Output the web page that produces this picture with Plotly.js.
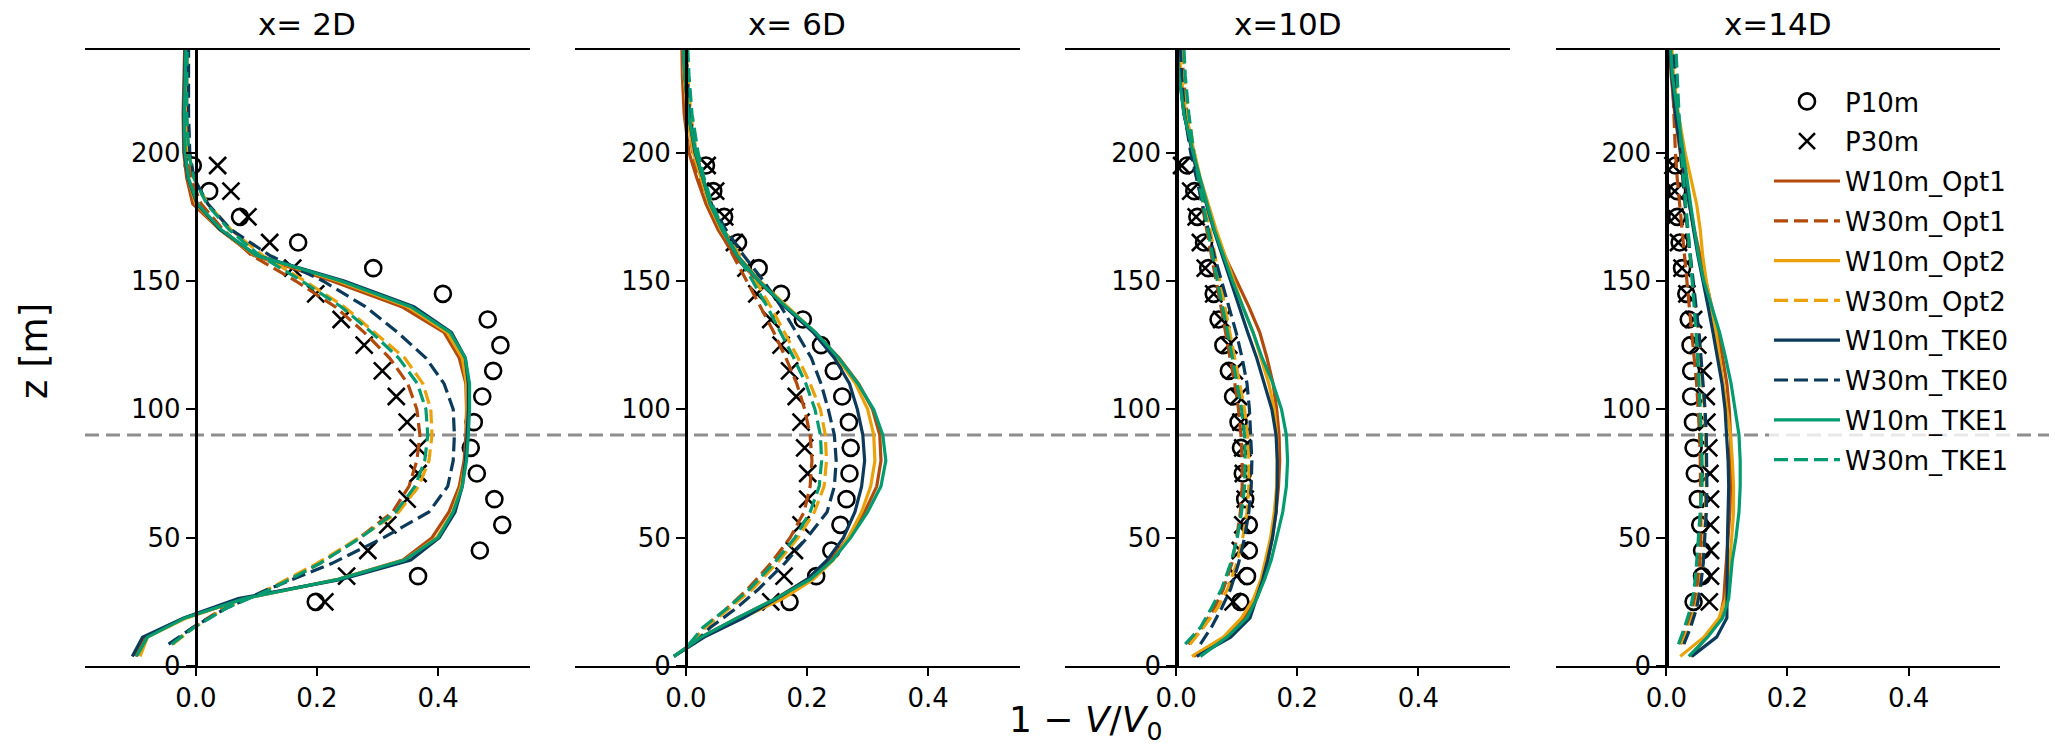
<!DOCTYPE html>
<html>
<head>
<meta charset="utf-8">
<script src="https://cdn.plot.ly/plotly-3.0.1.min.js"></script>
<style>html,body{margin:0;padding:0;background:#fff;}#chart{width:2067px;height:751px;}</style>
</head>
<body>
<div id="chart"></div>
<script>
// ---------------- DATA ----------------
const panelTitles = ['x= 2D', 'x= 6D', 'x=10D', 'x=14D'];
const seriesNames = ['P10m', 'P30m', 'W10m_Opt1', 'W30m_Opt1', 'W10m_Opt2', 'W30m_Opt2', 'W10m_TKE0', 'W30m_TKE0', 'W10m_TKE1', 'W30m_TKE1'];
const xTickVals = [0, 0.2, 0.4];
const xTickText = ['0.0', '0.2', '0.4'];
const yTickVals = [0, 50, 100, 150, 200];

// heights [m]
const zP = [25, 35, 45, 55, 65, 75, 85, 95, 105, 115, 125, 135, 145, 155, 165, 175, 185, 195];
const zS = [3.75, 11.25, 18.75, 26.25, 33.75, 41.25, 50, 60, 70, 80, 90, 100, 110, 120, 130, 140, 150, 160, 170, 180, 190, 200, 215, 230, 245];
const zD = [8.5, 15, 22.5, 30, 40, 50, 60, 70, 80, 90, 100, 110, 120, 130, 140, 150, 160, 170, 180, 190, 200, 215, 230, 245];

// x = 2D
const d2D_P10m = [0.198, 0.367, 0.469, 0.506, 0.493, 0.464, 0.454, 0.459, 0.473, 0.491, 0.503, 0.482, 0.408, 0.293, 0.169, 0.073, 0.022, -0.005];
const d2D_P30m = [0.213, 0.249, 0.284, 0.317, 0.349, 0.367, 0.367, 0.349, 0.331, 0.308, 0.278, 0.240, 0.198, 0.160, 0.122, 0.086, 0.058, 0.036];
const d2D_W10m_Opt1 = [-0.1, -0.085, -0.018, 0.078, 0.235, 0.342, 0.39, 0.418, 0.435, 0.443, 0.446, 0.447, 0.446, 0.435, 0.41, 0.34, 0.225, 0.095, 0.04, -0.005, -0.015, -0.02, -0.021, -0.019, -0.018];
const d2D_W30m_Opt1 = [-0.04, -0.005, 0.045, 0.125, 0.205, 0.27, 0.325, 0.352, 0.365, 0.37, 0.365, 0.35, 0.32, 0.278, 0.23, 0.165, 0.092, 0.045, 0.009, -0.008, -0.015, -0.017, -0.016, -0.015];
const d2D_W10m_Opt2 = [-0.092, -0.08, -0.015, 0.08, 0.235, 0.345, 0.398, 0.424, 0.438, 0.445, 0.448, 0.448, 0.447, 0.44, 0.415, 0.35, 0.235, 0.098, 0.04, 0.0, -0.013, -0.018, -0.019, -0.017, -0.016];
const d2D_W30m_Opt2 = [-0.038, -0.003, 0.048, 0.12, 0.2, 0.27, 0.335, 0.368, 0.385, 0.39, 0.388, 0.375, 0.345, 0.295, 0.245, 0.18, 0.11, 0.058, 0.02, -0.003, -0.012, -0.015, -0.015, -0.014];
const d2D_W10m_TKE0 = [-0.105, -0.088, -0.02, 0.07, 0.24, 0.355, 0.402, 0.428, 0.44, 0.445, 0.448, 0.45, 0.45, 0.445, 0.422, 0.36, 0.245, 0.10, 0.04, 0.002, -0.013, -0.019, -0.02, -0.018, -0.017];
const d2D_W30m_TKE0 = [-0.045, -0.005, 0.05, 0.12, 0.225, 0.31, 0.385, 0.416, 0.425, 0.427, 0.425, 0.41, 0.38, 0.333, 0.28, 0.21, 0.122, 0.058, 0.02, -0.003, -0.01, -0.012, -0.012, -0.012];
const d2D_W10m_TKE1 = [-0.098, -0.08, -0.018, 0.08, 0.235, 0.345, 0.40, 0.425, 0.44, 0.447, 0.45, 0.452, 0.452, 0.445, 0.42, 0.355, 0.24, 0.10, 0.042, 0.003, -0.012, -0.018, -0.019, -0.017, -0.016];
const d2D_W30m_TKE1 = [-0.04, -0.003, 0.05, 0.125, 0.205, 0.272, 0.33, 0.362, 0.378, 0.383, 0.38, 0.366, 0.335, 0.29, 0.24, 0.175, 0.105, 0.055, 0.018, -0.003, -0.012, -0.015, -0.015, -0.014];

// x = 6D
const d6D_P10m = [0.171, 0.215, 0.24, 0.255, 0.265, 0.27, 0.272, 0.269, 0.258, 0.244, 0.223, 0.193, 0.157, 0.12, 0.086, 0.063, 0.045, 0.033];
const d6D_P30m = [0.14, 0.162, 0.179, 0.19, 0.201, 0.201, 0.196, 0.19, 0.182, 0.171, 0.157, 0.14, 0.117, 0.099, 0.08, 0.064, 0.049, 0.035];
const d6D_W10m_Opt1 = [-0.02, 0.025, 0.085, 0.148, 0.2, 0.238, 0.268, 0.295, 0.315, 0.322, 0.32, 0.308, 0.285, 0.253, 0.213, 0.165, 0.118, 0.08, 0.053, 0.033, 0.018, 0.005, -0.003, -0.006, -0.007];
const d6D_W30m_Opt1 = [0.008, 0.03, 0.068, 0.102, 0.14, 0.172, 0.195, 0.205, 0.208, 0.205, 0.196, 0.183, 0.165, 0.145, 0.123, 0.1, 0.077, 0.055, 0.036, 0.022, 0.011, 0.003, 0.0, -0.002];
const d6D_W10m_Opt2 = [-0.02, 0.028, 0.093, 0.16, 0.21, 0.243, 0.268, 0.29, 0.305, 0.312, 0.31, 0.3, 0.28, 0.25, 0.213, 0.168, 0.122, 0.085, 0.058, 0.038, 0.025, 0.012, 0.002, -0.003, -0.005];
const d6D_W30m_Opt2 = [0.008, 0.032, 0.072, 0.11, 0.15, 0.185, 0.212, 0.228, 0.232, 0.23, 0.222, 0.205, 0.185, 0.162, 0.14, 0.115, 0.088, 0.062, 0.042, 0.028, 0.017, 0.008, 0.003, 0.0];
const d6D_W10m_TKE0 = [-0.02, 0.03, 0.095, 0.15, 0.2, 0.233, 0.26, 0.279, 0.29, 0.295, 0.292, 0.283, 0.27, 0.245, 0.21, 0.163, 0.12, 0.084, 0.06, 0.04, 0.028, 0.015, 0.004, -0.002, -0.005];
const d6D_W30m_TKE0 = [0.012, 0.04, 0.083, 0.12, 0.163, 0.2, 0.233, 0.245, 0.248, 0.245, 0.235, 0.223, 0.207, 0.182, 0.157, 0.128, 0.095, 0.066, 0.042, 0.028, 0.016, 0.006, 0.002, 0.0];
const d6D_W10m_TKE1 = [-0.02, 0.025, 0.085, 0.148, 0.205, 0.242, 0.272, 0.3, 0.322, 0.33, 0.325, 0.31, 0.284, 0.252, 0.214, 0.165, 0.12, 0.084, 0.06, 0.04, 0.028, 0.016, 0.004, -0.002, -0.005];
const d6D_W30m_TKE1 = [0.005, 0.028, 0.068, 0.105, 0.145, 0.18, 0.205, 0.22, 0.224, 0.222, 0.213, 0.198, 0.178, 0.156, 0.134, 0.11, 0.085, 0.062, 0.043, 0.03, 0.02, 0.01, 0.005, 0.002];

// x = 10D
const d10D_P10m = [0.106, 0.117, 0.12, 0.12, 0.114, 0.11, 0.107, 0.103, 0.094, 0.087, 0.078, 0.07, 0.062, 0.053, 0.046, 0.035, 0.03, 0.018];
const d10D_P30m = [0.094, 0.1, 0.106, 0.11, 0.114, 0.111, 0.11, 0.107, 0.103, 0.096, 0.087, 0.075, 0.062, 0.048, 0.04, 0.033, 0.024, 0.009];
const d10D_W10m_Opt1 = [0.029, 0.084, 0.112, 0.133, 0.145, 0.152, 0.159, 0.165, 0.169, 0.171, 0.17, 0.166, 0.16, 0.15, 0.138, 0.12, 0.1, 0.08, 0.063, 0.05, 0.038, 0.027, 0.013, 0.006, 0.002];
const d10D_W30m_Opt1 = [0.02, 0.043, 0.063, 0.078, 0.092, 0.1, 0.106, 0.109, 0.109, 0.107, 0.103, 0.097, 0.089, 0.082, 0.074, 0.066, 0.058, 0.05, 0.042, 0.034, 0.027, 0.018, 0.012, 0.008];
const d10D_W10m_Opt2 = [0.026, 0.078, 0.108, 0.128, 0.14, 0.148, 0.156, 0.162, 0.166, 0.167, 0.166, 0.162, 0.153, 0.14, 0.127, 0.11, 0.095, 0.08, 0.066, 0.053, 0.04, 0.03, 0.016, 0.008, 0.003];
const d10D_W30m_Opt2 = [0.023, 0.045, 0.068, 0.085, 0.1, 0.11, 0.117, 0.12, 0.12, 0.118, 0.113, 0.105, 0.097, 0.088, 0.08, 0.072, 0.064, 0.056, 0.047, 0.038, 0.03, 0.02, 0.013, 0.009];
const d10D_W10m_TKE0 = [0.034, 0.09, 0.122, 0.133, 0.143, 0.151, 0.159, 0.165, 0.167, 0.167, 0.165, 0.158, 0.146, 0.133, 0.118, 0.104, 0.09, 0.076, 0.062, 0.05, 0.038, 0.027, 0.013, 0.005, 0.001];
const d10D_W30m_TKE0 = [0.04, 0.058, 0.075, 0.09, 0.103, 0.113, 0.12, 0.124, 0.125, 0.123, 0.121, 0.117, 0.109, 0.099, 0.087, 0.074, 0.063, 0.053, 0.043, 0.033, 0.024, 0.014, 0.009, 0.006];
const d10D_W10m_TKE1 = [0.04, 0.084, 0.117, 0.133, 0.146, 0.157, 0.166, 0.176, 0.182, 0.184, 0.182, 0.174, 0.16, 0.142, 0.127, 0.11, 0.093, 0.078, 0.063, 0.051, 0.039, 0.028, 0.013, 0.005, 0.0];
const d10D_W30m_TKE1 = [0.015, 0.04, 0.058, 0.075, 0.09, 0.101, 0.108, 0.113, 0.114, 0.113, 0.108, 0.101, 0.093, 0.085, 0.076, 0.068, 0.06, 0.052, 0.044, 0.036, 0.029, 0.021, 0.015, 0.012];

// x = 14D
const d14D_P10m = [0.045, 0.059, 0.059, 0.056, 0.052, 0.047, 0.045, 0.044, 0.041, 0.041, 0.04, 0.037, 0.033, 0.026, 0.022, 0.018, 0.018, 0.015];
const d14D_P30m = [0.071, 0.073, 0.073, 0.073, 0.073, 0.072, 0.07, 0.067, 0.066, 0.061, 0.052, 0.045, 0.034, 0.026, 0.02, 0.014, 0.014, 0.011];
const d14D_W10m_Opt1 = [0.04, 0.067, 0.089, 0.095, 0.097, 0.099, 0.102, 0.105, 0.106, 0.106, 0.106, 0.104, 0.1, 0.093, 0.085, 0.075, 0.065, 0.055, 0.046, 0.038, 0.03, 0.023, 0.014, 0.008, 0.004];
const d14D_W30m_Opt1 = [0.023, 0.033, 0.043, 0.05, 0.055, 0.057, 0.057, 0.057, 0.056, 0.055, 0.053, 0.05, 0.046, 0.042, 0.037, 0.033, 0.029, 0.025, 0.021, 0.018, 0.015, 0.012, 0.01, 0.009];
const d14D_W10m_Opt2 = [0.023, 0.062, 0.087, 0.098, 0.102, 0.105, 0.108, 0.111, 0.111, 0.109, 0.106, 0.1, 0.094, 0.088, 0.082, 0.074, 0.066, 0.06, 0.056, 0.05, 0.04, 0.031, 0.02, 0.012, 0.008];
const d14D_W30m_Opt2 = [0.026, 0.037, 0.048, 0.055, 0.06, 0.063, 0.065, 0.066, 0.066, 0.065, 0.063, 0.06, 0.057, 0.053, 0.048, 0.043, 0.039, 0.035, 0.031, 0.027, 0.023, 0.019, 0.015, 0.012];
const d14D_W10m_TKE0 = [0.042, 0.083, 0.1, 0.1, 0.1, 0.1, 0.101, 0.102, 0.103, 0.102, 0.1, 0.097, 0.092, 0.085, 0.077, 0.069, 0.06, 0.052, 0.045, 0.038, 0.031, 0.024, 0.015, 0.009, 0.005];
const d14D_W30m_TKE0 = [0.029, 0.04, 0.05, 0.056, 0.061, 0.064, 0.066, 0.067, 0.067, 0.066, 0.064, 0.061, 0.058, 0.054, 0.049, 0.044, 0.04, 0.035, 0.031, 0.027, 0.023, 0.018, 0.014, 0.011];
const d14D_W10m_TKE1 = [0.037, 0.068, 0.093, 0.103, 0.106, 0.109, 0.115, 0.12, 0.122, 0.122, 0.12, 0.114, 0.107, 0.098, 0.088, 0.075, 0.062, 0.053, 0.046, 0.04, 0.034, 0.028, 0.018, 0.01, 0.006];
const d14D_W30m_TKE1 = [0.02, 0.03, 0.04, 0.046, 0.05, 0.053, 0.057, 0.059, 0.059, 0.058, 0.056, 0.054, 0.052, 0.049, 0.046, 0.043, 0.04, 0.036, 0.032, 0.028, 0.025, 0.021, 0.018, 0.015];

// ---------------- lookup built from the arrays ----------------
const panelData = [
  [d2D_P10m, d2D_P30m, d2D_W10m_Opt1, d2D_W30m_Opt1, d2D_W10m_Opt2, d2D_W30m_Opt2, d2D_W10m_TKE0, d2D_W30m_TKE0, d2D_W10m_TKE1, d2D_W30m_TKE1],
  [d6D_P10m, d6D_P30m, d6D_W10m_Opt1, d6D_W30m_Opt1, d6D_W10m_Opt2, d6D_W30m_Opt2, d6D_W10m_TKE0, d6D_W30m_TKE0, d6D_W10m_TKE1, d6D_W30m_TKE1],
  [d10D_P10m, d10D_P30m, d10D_W10m_Opt1, d10D_W30m_Opt1, d10D_W10m_Opt2, d10D_W30m_Opt2, d10D_W10m_TKE0, d10D_W30m_TKE0, d10D_W10m_TKE1, d10D_W30m_TKE1],
  [d14D_P10m, d14D_P30m, d14D_W10m_Opt1, d14D_W30m_Opt1, d14D_W10m_Opt2, d14D_W30m_Opt2, d14D_W10m_TKE0, d14D_W30m_TKE0, d14D_W10m_TKE1, d14D_W30m_TKE1]
];

// ---------------- STYLE ----------------
const FONT = 'DejaVu Sans';
const colors = {Opt1: '#b24a0c', Opt2: '#eba10a', TKE0: '#0c3a5a', TKE1: '#049b70'};
const DASH = '14px,6px';
const LW = 3.2;

const W = 2067, H = 751;
const M = {l: 85, r: 67, t: 50, b: 85};
const plotW = W - M.l - M.r, plotH = H - M.t - M.b;
const panelW = 444.5;
const gap = (plotW - 4 * panelW) / 3;
const xRange = [-0.183, 0.551];
const yRange = [0, 240];
const LEG_ITEM_W = 66;

function styleFor(name) {
  const parts = name.split('_');
  return {color: colors[parts[1]], dash: parts[0] === 'W30m' ? DASH : 'solid'};
}

const traces = [];
const layout = {
  width: W, height: H,
  margin: {l: M.l, r: M.r, t: M.t, b: M.b, autoexpand: false},
  paper_bgcolor: '#ffffff',
  plot_bgcolor: 'rgba(0,0,0,0)',
  font: {family: FONT, size: 26, color: '#000'},
  showlegend: true,
  legend: {
    x: (1807 - (LEG_ITEM_W / 2 + 5) - M.l) / plotW, xanchor: 'left',
    y: 1 - (78 - M.t) / plotH, yanchor: 'top',
    bgcolor: 'rgba(255,255,255,0.8)', borderwidth: 0,
    font: {family: FONT, size: 26, color: '#000'},
    tracegroupgap: 3, itemwidth: LEG_ITEM_W, traceorder: 'grouped'
  },
  annotations: [],
  shapes: []
};

for (let p = 0; p < 4; p++) {
  const d0 = p * (panelW + gap) / plotW;
  const d1 = d0 + panelW / plotW;
  const xa = p === 0 ? 'xaxis' : 'xaxis' + (p + 1);
  const ya = p === 0 ? 'yaxis' : 'yaxis' + (p + 1);
  const xr = p === 0 ? 'x' : 'x' + (p + 1);
  const yr = p === 0 ? 'y' : 'y' + (p + 1);
  const zeroPos = d0 + (0 - xRange[0]) / (xRange[1] - xRange[0]) * (panelW / plotW);

  layout[xa] = {
    domain: [d0, d1], anchor: yr, range: xRange,
    showgrid: false, zeroline: false,
    showline: true, linecolor: '#000', linewidth: 2, mirror: true,
    ticks: 'outside', ticklen: 8, tickwidth: 2, tickcolor: '#000',
    tickvals: xTickVals, ticktext: xTickText,
    tickfont: {family: FONT, size: 26, color: '#000'},
    fixedrange: true
  };
  layout[ya] = {
    domain: [0, 1], anchor: 'free', position: zeroPos, range: yRange,
    showgrid: false, zeroline: false,
    showline: true, linecolor: '#000', linewidth: 3.5,
    ticks: 'outside', ticklen: 9, tickwidth: 2, tickcolor: '#000',
    tickvals: yTickVals,
    tickfont: {family: FONT, size: 26, color: '#000'},
    fixedrange: true
  };

  layout.annotations.push({
    text: panelTitles[p], xref: 'paper', yref: 'paper',
    x: (d0 + d1) / 2, y: 1 + (M.t - 24) / plotH,
    xanchor: 'center', yanchor: 'middle', showarrow: false,
    font: {family: FONT, size: 31, color: '#000'}
  });

  const data = panelData[p];
  seriesNames.forEach((name, k) => {
    const vals = data[k];
    const tr = {
      xaxis: xr, yaxis: yr, name: name,
      legendgroup: name, showlegend: p === 3,
      hoverinfo: 'skip', cliponaxis: true
    };
    if (name === 'P10m' || name === 'P30m') {
      tr.type = 'scatter'; tr.mode = 'markers';
      tr.x = vals; tr.y = zP;
      tr.marker = {
        symbol: name === 'P10m' ? 'circle-open' : 'x-thin-open',
        size: name === 'P10m' ? 16 : 17, color: '#000',
        line: {color: '#000', width: 2.6}
      };
    } else {
      const st = styleFor(name);
      tr.type = 'scatter'; tr.mode = 'lines';
      tr.x = vals; tr.y = name.startsWith('W30m') ? zD : zS;
      tr.line = {color: st.color, width: LW, dash: st.dash};
    }
    traces.push(tr);
  });
}

// hub-height reference line across the whole figure
layout.shapes.push({
  type: 'line', xref: 'paper', yref: 'y', layer: 'below',
  x0: 0, x1: (2049 - M.l) / plotW, y0: 90, y1: 90,
  line: {color: '#8e8e8e', width: 3.2, dash: '14px,7px'}
});

// figure-level axis titles
layout.annotations.push({
  text: 'z [m]', xref: 'paper', yref: 'paper',
  x: (34 - M.l) / plotW, y: (H - M.b - 351) / plotH,
  xanchor: 'center', yanchor: 'middle', textangle: -90, showarrow: false,
  font: {family: FONT, size: 37, color: '#000'}
});
layout.annotations.push({
  text: '1 − <i>V</i>/<i>V</i><sub>0</sub>', xref: 'paper', yref: 'paper',
  x: (1085 - M.l) / plotW, y: -(722 - (H - M.b)) / plotH,
  xanchor: 'center', yanchor: 'middle', showarrow: false,
  font: {family: FONT, size: 36, color: '#000'}
});

Plotly.newPlot('chart', traces, layout, {staticPlot: true, displayModeBar: false});
</script>
</body>
</html>
